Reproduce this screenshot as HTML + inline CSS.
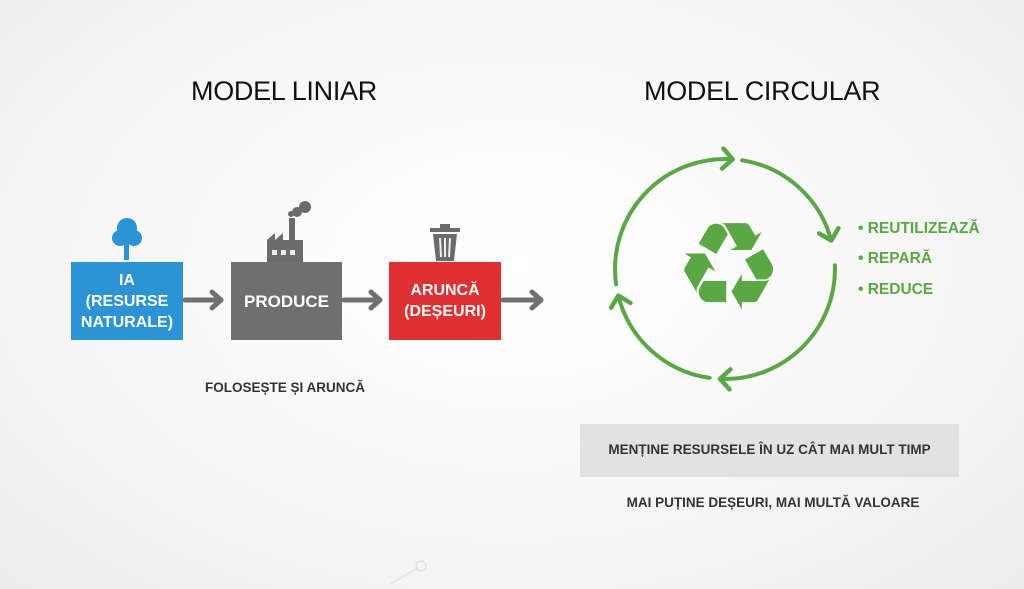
<!DOCTYPE html>
<html><head><meta charset="utf-8"><style>
body{margin:0;width:1024px;height:589px;overflow:hidden;background:radial-gradient(ellipse at 50% 45%,#ffffff 0%,#f8f8f8 50%,#ececec 100%);font-family:"Liberation Sans",sans-serif;position:relative}
.t{position:absolute;font-weight:bold;white-space:nowrap}
.box{position:absolute;display:flex;align-items:center;justify-content:center;text-align:center;color:#fff;font-weight:bold;font-size:16px;line-height:21px}
</style></head><body>
<div class="t" style="left:191px;top:76px;font-size:27px;font-weight:normal;color:#111;letter-spacing:-0.3px">MODEL LINIAR</div>
<div class="t" style="left:644px;top:76px;font-size:27px;font-weight:normal;color:#111;letter-spacing:-0.3px">MODEL CIRCULAR</div>

<div class="box" style="left:71px;top:262px;width:112px;height:78px;background:#2b94d6">IA<br>(RESURSE<br>NATURALE)</div>
<div class="box" style="left:231px;top:262px;width:111px;height:78px;background:#6f6f6f;font-size:17px">PRODUCE</div>
<div class="box" style="left:389px;top:262px;width:112px;height:78px;background:#e0302f">ARUNCĂ<br>(DEȘEURI)</div>

<svg width="1024" height="589" style="position:absolute;left:0;top:0">
<defs><marker id="m" markerUnits="userSpaceOnUse" markerWidth="30" markerHeight="30" refX="15" refY="15" orient="auto"><path d="M5,5 L15,15 L5,25" fill="none" stroke="#5aa844" stroke-width="4.5" stroke-linecap="round" stroke-linejoin="round"/></marker></defs>
<g stroke="#707070" stroke-width="5" fill="none" stroke-linecap="round" stroke-linejoin="round">
<path d="M185,300 H220 M212,292 L221,300 L212,308"/>
<path d="M344,300 H379 M371,292 L380,300 L371,308"/>
<path d="M503,300 H540 M532,292 L541,300 L532,308"/>
</g>
<g fill="#2b94d6"><circle cx="127" cy="228" r="10"/><circle cx="120" cy="238" r="8"/><circle cx="134" cy="238" r="8"/><rect x="124" y="240" width="5" height="20"/></g>
<g fill="#6b6b6b"><rect x="267" y="240" width="36" height="22"/><path d="M267,240 L275,233 L275,240 L283,233 L283,240 Z"/><rect x="289" y="218" width="6" height="22"/><circle cx="297" cy="212" r="5"/><circle cx="305" cy="207" r="6"/><circle cx="291" cy="214" r="3"/></g>
<g fill="#eee"><rect x="272" y="250" width="5" height="5"/><rect x="281" y="250" width="5" height="5"/><rect x="290" y="250" width="5" height="5"/></g>
<g fill="#6b6b6b"><rect x="430" y="228" width="30" height="4"/><rect x="440" y="224" width="10" height="4"/><path d="M433,234 H457 L454,261 H436 Z"/></g>
<g stroke="#eee" stroke-width="2"><line x1="440" y1="238" x2="441" y2="257"/><line x1="445" y1="238" x2="445" y2="257"/><line x1="450" y1="238" x2="449" y2="257"/></g>
<g stroke="#5aa844" stroke-width="4" fill="none" stroke-linecap="round">
<path d="M616.1,284.3 A110,110 0 0 1 732.7,159.3" marker-end="url(#m)"/>
<path d="M742.2,160.3 A110,110 0 0 1 831.3,240.5" marker-end="url(#m)"/>
<path d="M834.9,265.2 A110,110 0 0 1 720,378.9" marker-end="url(#m)"/>
<path d="M709.7,377.9 A110,110 0 0 1 618.3,295.6" marker-end="url(#m)"/>
</g>
<line x1="390" y1="584" x2="418" y2="568" stroke="#ddd" stroke-width="1"/><circle cx="421" cy="566" r="5" fill="none" stroke="#ddd"/>
</svg>
<div class="t" style="left:674px;top:200px;font-size:122px;line-height:134px;color:#5aa844;font-family:'DejaVu Sans',sans-serif;font-weight:normal">♻</div>

<div class="t" style="left:858px;top:220px;font-size:15.5px;color:#5aa844">• REUTILIZEAZĂ</div>
<div class="t" style="left:858px;top:250px;font-size:15.5px;color:#5aa844">• REPARĂ</div>
<div class="t" style="left:858px;top:281px;font-size:15.5px;color:#5aa844">• REDUCE</div>

<div class="t" style="left:205px;top:380px;font-size:13.5px;color:#333">FOLOSEȘTE ȘI ARUNCĂ</div>
<div style="position:absolute;left:580px;top:424px;width:379px;height:53px;background:#e2e2e2"></div>
<div class="t" style="left:580px;top:442px;width:379px;text-align:center;font-size:13.5px;color:#333">MENȚINE RESURSELE ÎN UZ CÂT MAI MULT TIMP</div>
<div class="t" style="left:580px;top:495px;width:386px;text-align:center;font-size:13.5px;color:#333">MAI PUȚINE DEȘEURI, MAI MULTĂ VALOARE</div>
</body></html>
